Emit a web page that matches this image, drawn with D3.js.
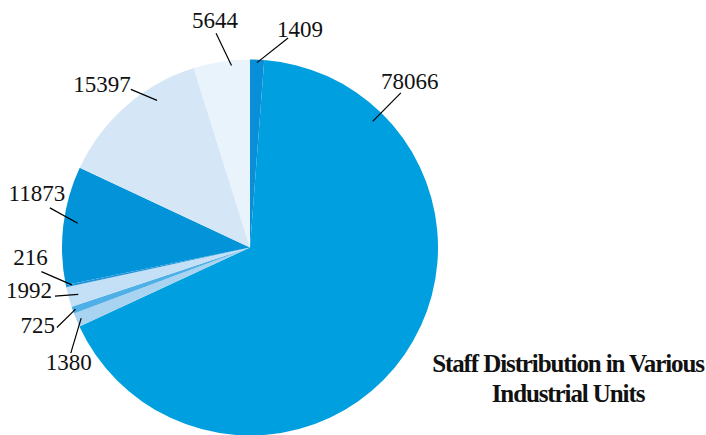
<!DOCTYPE html>
<html>
<head>
<meta charset="utf-8">
<script src="https://cdn.jsdelivr.net/npm/d3@7"></script>
<style>
  html, body { margin: 0; padding: 0; background: #ffffff; }
  svg { display: block; }
</style>
</head>
<body>
<svg id="chart" width="706" height="435"></svg>
<script>
// Staff counts per industrial unit, in drawing order (clockwise from 12 o'clock)
const units  = ["A", "B", "C", "D", "E", "F", "G", "H", "I"];
const staff  = [1409, 78066, 1380, 725, 1992, 216, 11873, 15397, 5644];
const colors = ["#0a8ed7", "#009fdf", "#a8d3f1", "#4fb0e8", "#c3e0f6", "#2194da", "#0393d8", "#d5e7f7", "#e9f3fc"];

// Leader-line layout: where the line touches the slice and where it ends (degrees clockwise from north, radius in px)
const innerAngle = [null, 44.2, null, null, null, null, 278, 327.7, 354.2];
const innerRadius = [185, 176, 183, 185, 178, 182, 174, 174, 183];
const outerAngle  = [10.3, 44.3, 239.5, 247.5, 256, 263.4, 281.2, 323, 351];
const outerRadius = [213, 216, 208, 209, 201, 210, 204, 198, 217];
// Text placement relative to the line end
const textAnchor = ["middle", "middle", "middle", "end", "end", "middle", "middle", "end", "middle"];
const textDx = [12, 9, -2, -2, -3, -11, -13, 0, -1];
const textDy = [-1, -4, 17, 6, 2, -7, -7, 3, -5];

const title = ["Staff Distribution in Various", "Industrial Units"];

const svg = d3.select("#chart");
const cx = 250, cy = 247.5, r = 188;

const pie = d3.pie().sort(null).value(d => d.v);
const arcs = pie(units.map((u, i) => ({ u, v: staff[i], i })));
const arc = d3.arc().innerRadius(0).outerRadius(r);

const g = svg.append("g").attr("transform", `translate(${cx},${cy})`);

g.selectAll("path.slice")
  .data(arcs)
  .join("path")
  .attr("class", "slice")
  .attr("d", arc)
  .attr("fill", d => colors[d.data.i]);

const polar = (deg, rad) => {
  const a = deg * Math.PI / 180;
  return [Math.sin(a) * rad, -Math.cos(a) * rad];
};

arcs.forEach(d => {
  const i = d.data.i;
  const midDeg = ((d.startAngle + d.endAngle) / 2) * 180 / Math.PI;
  const inA = innerAngle[i] == null ? midDeg : innerAngle[i];
  const p0 = polar(inA, innerRadius[i]);
  const p1 = polar(outerAngle[i], outerRadius[i]);
  g.append("line")
    .attr("x1", p0[0]).attr("y1", p0[1])
    .attr("x2", p1[0]).attr("y2", p1[1])
    .attr("stroke", "#000").attr("stroke-width", 1.2);
  g.append("text")
    .attr("x", p1[0] + textDx[i])
    .attr("y", p1[1] + textDy[i])
    .attr("text-anchor", textAnchor[i])
    .attr("font-family", "'Liberation Serif', 'Times New Roman', serif")
    .attr("font-size", 23)
    .attr("fill", "#111")
    .text(d3.format("d")(d.data.v));
});

svg.append("text")
  .attr("text-anchor", "middle")
  .attr("font-family", "'Liberation Serif', 'Times New Roman', serif")
  .attr("font-weight", "bold")
  .attr("font-size", 25)
  .attr("letter-spacing", -1.1)
  .attr("fill", "#111")
  .selectAll("tspan")
  .data(title)
  .join("tspan")
  .attr("x", 568)
  .attr("y", (d, i) => 372 + i * 30)
  .text(d => d);
</script>
</body>
</html>
